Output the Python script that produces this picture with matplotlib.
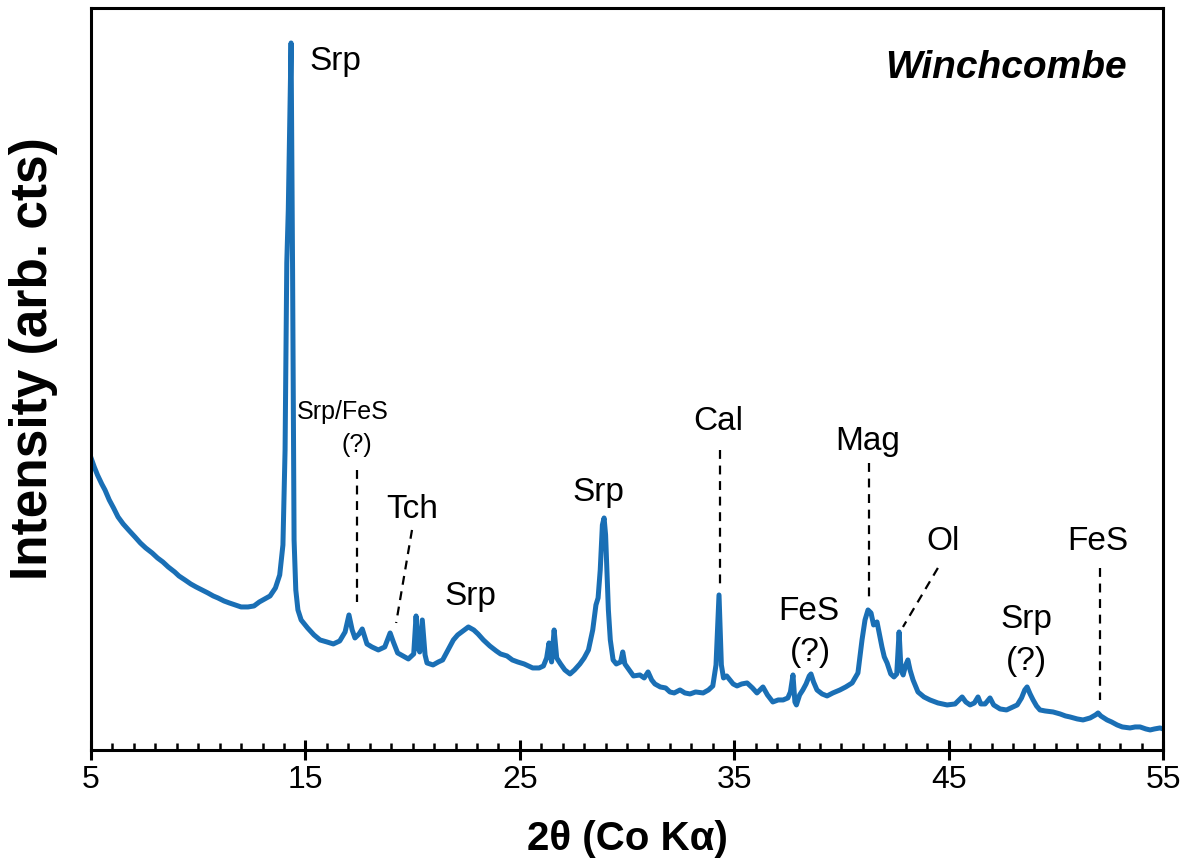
import matplotlib

matplotlib.use('Agg')

import matplotlib.pyplot as plt
from matplotlib.ticker import MultipleLocator

plt.rcParams['font.family'] = ['Liberation Sans', 'DejaVu Sans']

# XRD pattern: 2theta (deg) and intensity (arb. units)
two_theta = [
    5.0, 5.15, 5.3, 5.5, 5.65, 5.85, 6.05, 6.26, 6.5, 6.75, 7.05, 7.3, 7.55, 7.85,
    8.1, 8.35, 8.6, 8.9, 9.1, 9.38, 9.65, 9.9, 10.18, 10.45, 10.7, 10.92, 11.2,
    11.45, 11.72, 12.0, 12.32, 12.6, 12.85, 13.1, 13.35, 13.6, 13.8, 13.95, 14.05,
    14.13, 14.2, 14.33, 14.4, 14.47, 14.55, 14.65, 14.8, 15.1, 15.4, 15.68, 16.0,
    16.3, 16.6, 16.85, 17.03, 17.18, 17.31, 17.5, 17.65, 17.87, 18.1, 18.4, 18.7,
    18.95, 19.1, 19.3, 19.55, 19.8, 20.05, 20.16, 20.25, 20.33, 20.45, 20.58,
    20.67, 20.95, 21.2, 21.4, 21.65, 21.9, 22.1, 22.35, 22.6, 22.85, 23.05, 23.3,
    23.6, 23.9, 24.1, 24.4, 24.65, 24.9, 25.2, 25.6, 25.9, 26.1, 26.25, 26.36,
    26.48, 26.6, 26.72, 26.9, 27.1, 27.34, 27.55, 27.8, 28.0, 28.2, 28.4, 28.55,
    28.65, 28.75, 28.85, 28.93, 29.0, 29.07, 29.13, 29.22, 29.35, 29.5, 29.7,
    29.8, 29.9, 30.1, 30.3, 30.6, 30.8, 30.98, 31.15, 31.3, 31.55, 31.8, 32.0,
    32.2, 32.47, 32.7, 32.94, 33.2, 33.55, 33.8, 34.0, 34.15, 34.29, 34.4, 34.5,
    34.65, 34.8, 34.95, 35.13, 35.35, 35.6, 35.85, 36.06, 36.2, 36.34, 36.55,
    36.8, 37.05, 37.28, 37.5, 37.62, 37.74, 37.83, 37.9, 38.05, 38.2, 38.35,
    38.5, 38.58, 38.7, 38.86, 39.1, 39.33, 39.6, 39.93, 40.2, 40.5, 40.77, 40.96,
    41.1, 41.24, 41.38, 41.5, 41.66, 41.78, 41.89, 42.0, 42.13, 42.3, 42.45,
    42.58, 42.69, 42.78, 42.88, 43.0, 43.1, 43.2, 43.34, 43.57, 43.85, 44.13,
    44.5, 44.93, 45.3, 45.63, 45.8, 46.0, 46.2, 46.37, 46.5, 46.7, 46.93, 47.1,
    47.4, 47.7, 47.9, 48.2, 48.4, 48.55, 48.66, 48.8, 48.94, 49.1, 49.26, 49.5,
    49.87, 50.2, 50.45, 50.66, 51.0, 51.27, 51.6, 51.85, 51.97, 52.1, 52.39,
    52.6, 52.86, 53.1, 53.46, 53.7, 53.93, 54.2, 54.4, 54.6, 54.86, 55.0,
]
intensity = [
    292, 283, 275, 266, 260, 250, 242, 233, 226, 220, 213, 207, 202, 197,
    192, 188, 183, 178, 174, 170, 166, 163, 160, 157, 154, 152, 149,
    147, 145, 143, 143, 144, 148, 151, 154, 162, 175, 205, 300,
    487, 540, 707, 480, 210, 160, 140, 130, 122, 115, 110, 108,
    106, 109, 118, 135, 120, 112, 116, 121, 106, 103, 100, 103,
    117, 108, 97, 94, 91, 96, 134, 102, 98, 130, 95,
    87, 85, 88, 90, 100, 110, 115, 119, 123, 120, 116, 110,
    104, 99, 96, 94, 90, 88, 86, 82, 82, 84, 92, 107,
    88, 120, 92, 86, 80, 76, 80, 86, 92, 100, 120, 145,
    152, 180, 225, 232, 215, 175, 140, 110, 90, 86, 88,
    98, 86, 80, 74, 75, 72, 78, 70, 66, 63, 62, 58,
    57, 60, 57, 56, 58, 57, 60, 64, 85, 155, 85, 72,
    74, 70, 66, 64, 66, 67, 62, 57, 60, 63, 55,
    48, 50, 50, 52, 58, 75, 48, 45, 55, 60, 66,
    74, 76, 68, 60, 56, 54, 57, 60, 63, 67, 77, 110,
    130, 140, 137, 125, 128, 115, 103, 93, 87, 76, 73,
    76, 118, 80, 75, 85, 90, 80, 70, 58, 53, 50,
    47, 45, 46, 53, 48, 45, 47, 53, 46, 46, 52, 45,
    41, 40, 42, 45, 52, 60, 63, 56, 50, 44, 40, 39,
    38, 36, 34, 33, 31, 30, 32, 35, 37, 34, 30,
    28, 25, 23, 22, 23, 23, 21, 20, 21, 22, 21,
]

x_ticks = [5, 15, 25, 35, 45, 55]

# phase labels: text, x, y
labels = ["Srp", "Srp/FeS", "(?)", "Tch", "Srp", "Srp", "Cal", "FeS", "(?)",
          "Mag", "Ol", "Srp", "(?)", "FeS"]
label_x = [15.2, 16.75, 17.41, 19.97, 22.68, 28.65, 34.24, 38.49, 38.54,
           41.24, 44.74, 48.61, 48.61, 51.97]
label_y = [688, 338, 305, 240, 153, 257, 328, 138, 97, 308, 208, 130, 88, 208]
label_size = [24, 18, 18, 24, 24, 24, 24, 24, 24, 24, 24, 24, 24, 24]

# dashed leader lines: (x0, y0) -> (x1, y1)
leaders = [
    (17.41, 280, 17.41, 148),
    (19.97, 220, 19.23, 127),
    (34.34, 300, 34.34, 163),
    (41.29, 287, 41.29, 150),
    (44.5, 182, 42.87, 123),
    (52.06, 182, 52.06, 50),
]

fig = plt.figure(figsize=(11.87, 8.68), dpi=100)
ax = fig.add_axes([0.0767, 0.136, 0.9031, 0.8548])

ax.plot(two_theta, intensity, color='#1a6fb5', lw=3.6, solid_joinstyle='round')

for x0, y0, x1, y1 in leaders:
    ax.plot([x0, x1], [y0, y1], color='black', lw=1.6, ls=(0, (4, 3)))

for i, t in enumerate(labels):
    ha = 'left' if i == 0 else 'center'
    ax.text(label_x[i], label_y[i], t, fontsize=label_size[i], ha=ha, va='center')

ax.text(53.3, 682, "Winchcombe", fontsize=28, fontweight='bold', style='italic',
        ha='right', va='center')

ax.set_xlim(5, 55)
ax.set_ylim(0, 742)
ax.set_yticks([])
ax.set_xticks(x_ticks)
ax.xaxis.set_minor_locator(MultipleLocator(1))
ax.tick_params(axis='x', which='major', direction='inout', length=14, width=2.2,
               labelsize=23, pad=4)
ax.tick_params(axis='x', which='minor', direction='in', length=5, width=1.8)
for s in ax.spines.values():
    s.set_linewidth(2.2)

ax.set_xlabel("2θ (Co Kα)", fontsize=29, fontweight='bold', labelpad=18)
ax.set_ylabel("Intensity (arb. cts)", fontsize=37, fontweight='bold')
ax.yaxis.set_label_coords(-0.031, 0.527)

plt.savefig("out.png", dpi=100)
